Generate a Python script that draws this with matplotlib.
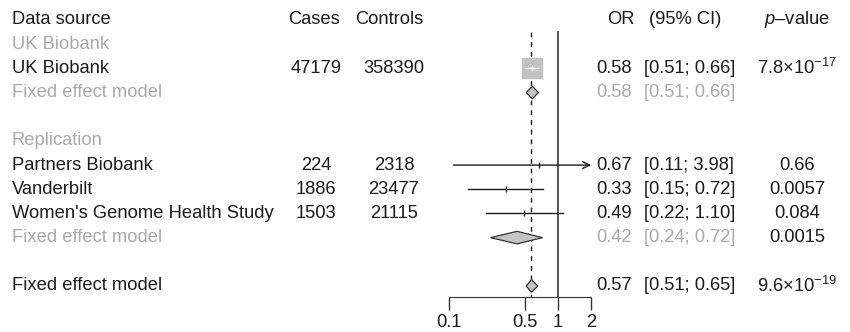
import matplotlib
matplotlib.use("Agg")
import matplotlib.pyplot as plt
from matplotlib.ticker import NullLocator, FixedLocator, FixedFormatter

plt.rcParams['font.family'] = ['Liberation Sans', 'DejaVu Sans']
plt.rcParams['mathtext.fontset'] = 'custom'
plt.rcParams['mathtext.rm'] = 'Liberation Sans'
plt.rcParams['mathtext.it'] = 'Liberation Sans:italic'
plt.rcParams['mathtext.bf'] = 'Liberation Sans:bold'

# ---------------- data ----------------
uk_label = "UK Biobank"
uk_cases = 47179
uk_controls = 358390
uk_or, uk_lo, uk_hi = 0.58, 0.51, 0.66
uk_p = r"7.8×10$^{-17}$"

uk_fixed = (0.58, 0.51, 0.66)

rep_studies = ["Partners Biobank", "Vanderbilt", "Women's Genome Health Study"]
rep_cases = [224, 1886, 1503]
rep_controls = [2318, 23477, 21115]
rep_or = [0.67, 0.33, 0.49]
rep_lo = [0.11, 0.15, 0.22]
rep_hi = [3.98, 0.72, 1.10]
rep_p = ["0.66", "0.0057", "0.084"]

rep_fixed = (0.42, 0.24, 0.72)
rep_fixed_p = "0.0015"

overall_fixed = (0.57, 0.51, 0.65)
overall_p = r"9.6×10$^{-19}$"

xticks = [0.1, 0.5, 1, 2]
xtick_labels = ["0.1", "0.5", "1", "2"]

# ---------------- layout ----------------
W, H = 850, 332
fig = plt.figure(figsize=(W / 100, H / 100), dpi=100)
row0_px, drow = 20.0, 24.18
ylim = ((H - row0_px) / drow, -row0_px / drow)

BLACK = '#1a1a1a'
GRAY = '#a9a9a9'
FS = 13.2

tax = fig.add_axes([0, 0, 1, 1])
tax.set_xlim(0, W)
tax.set_ylim(*ylim)
tax.axis('off')

fax = fig.add_axes([449 / W, 0, 142 / W, 1])
fax.patch.set_visible(False)
fax.set_xscale('log')
fax.set_xlim(xticks[0], xticks[-1])
fax.set_ylim(*ylim)
for s in ['top', 'left', 'right']:
    fax.spines[s].set_visible(False)
axis_row = (296.5 - row0_px) / drow
fax.spines['bottom'].set_position(('data', axis_row))
fax.spines['bottom'].set_bounds(xticks[0], xticks[-1])
fax.spines['bottom'].set_color('#333333')
fax.xaxis.set_major_locator(FixedLocator(xticks))
fax.xaxis.set_major_formatter(FixedFormatter(xtick_labels))
fax.xaxis.set_minor_locator(NullLocator())
fax.tick_params(axis='x', length=9, width=1, color='#333333', labelsize=FS,
                labelcolor=BLACK, pad=3.5)
fax.set_yticks([])

top_row = (32 - row0_px) / drow
fax.plot([1, 1], [top_row, axis_row], color='#555555', lw=1.4, zorder=1)
fax.plot([overall_fixed[0]] * 2, [top_row, axis_row], color=BLACK, lw=1,
         ls=(0, (3.5, 3.5)), zorder=1)

def diamond(ax, est, lo, hi, row, h=0.26):
    ax.fill([lo, est, hi, est], [row, row - h, row, row + h],
            facecolor='#c4c4c4', edgecolor='#333333', lw=0.9, zorder=3)

# rows
r_head, r_ukgrp, r_uk, r_ukfix = 0, 1, 2, 3
r_repgrp = 5
r_rep = [6, 7, 8]
r_repfix = 9
r_all = 11

# UK Biobank study
fax.plot([uk_or], [r_uk], marker='s', markersize=15, color='#c2c2c2', ls='none', zorder=2)
fax.plot([uk_lo, uk_hi], [r_uk, r_uk], color='white', lw=1, zorder=3)
fax.plot([uk_or], [r_uk], marker='|', markersize=5, color='white', mew=1, ls='none', zorder=3)
diamond(fax, *uk_fixed, r_ukfix)

# replication studies
xmax = xticks[-1]
for o, lo, hi, r in zip(rep_or, rep_lo, rep_hi, r_rep):
    if hi > xmax:
        fax.annotate('', xy=(xmax, r), xytext=(lo, r),
                     arrowprops=dict(arrowstyle='->', lw=1, color=BLACK,
                                     mutation_scale=12, shrinkA=0, shrinkB=0),
                     zorder=3)
    else:
        fax.plot([lo, hi], [r, r], color=BLACK, lw=1, zorder=3)
    fax.plot([o], [r], marker='|', markersize=5, color=BLACK, mew=1, ls='none', zorder=3)
diamond(fax, *rep_fixed, r_repfix)
diamond(fax, *overall_fixed, r_all)

# ---------------- text ----------------
def t(x, r, s, ha='left', color=BLACK, **kw):
    tax.text(x, r, s, ha=ha, va='center', color=color, fontsize=FS, **kw)

X_LAB, X_CASES, X_CTRL, X_OR, X_CI, X_P = 12, 316, 394, 614, 644, 797

t(X_LAB, r_head, "Data source")
t(288, r_head, "Cases")
t(355, r_head, "Controls")
t(X_OR + 7, r_head, "OR", ha='center')
t(649, r_head, "(95% CI)")
t(X_P, r_head, r"$\mathit{p}$–value", ha='center')

t(X_LAB, r_ukgrp, "UK Biobank", color=GRAY)
t(X_LAB, r_uk, uk_label)
t(X_CASES, r_uk, f"{uk_cases}", ha='center')
t(X_CTRL, r_uk, f"{uk_controls}", ha='center')
t(X_OR, r_uk, f"{uk_or:.2f}", ha='center')
t(X_CI, r_uk, f"[{uk_lo:.2f}; {uk_hi:.2f}]")
t(X_P, r_uk, uk_p, ha='center')

t(X_LAB, r_ukfix, "Fixed effect model", color=GRAY)
t(X_OR, r_ukfix, f"{uk_fixed[0]:.2f}", ha='center', color=GRAY)
t(X_CI, r_ukfix, f"[{uk_fixed[1]:.2f}; {uk_fixed[2]:.2f}]", color=GRAY)

t(X_LAB, r_repgrp, "Replication", color=GRAY)
for name, ca, co, o, lo, hi, p, r in zip(rep_studies, rep_cases, rep_controls,
                                         rep_or, rep_lo, rep_hi, rep_p, r_rep):
    t(X_LAB, r, name)
    t(X_CASES, r, f"{ca}", ha='center')
    t(X_CTRL, r, f"{co}", ha='center')
    t(X_OR, r, f"{o:.2f}", ha='center')
    t(X_CI, r, f"[{lo:.2f}; {hi:.2f}]")
    t(X_P, r, p, ha='center')

t(X_LAB, r_repfix, "Fixed effect model", color=GRAY)
t(X_OR, r_repfix, f"{rep_fixed[0]:.2f}", ha='center', color=GRAY)
t(X_CI, r_repfix, f"[{rep_fixed[1]:.2f}; {rep_fixed[2]:.2f}]", color=GRAY)
t(X_P, r_repfix, rep_fixed_p, ha='center')

t(X_LAB, r_all, "Fixed effect model")
t(X_OR, r_all, f"{overall_fixed[0]:.2f}", ha='center')
t(X_CI, r_all, f"[{overall_fixed[1]:.2f}; {overall_fixed[2]:.2f}]")
t(X_P, r_all, overall_p, ha='center')

fig.savefig("out.png", dpi=100)
